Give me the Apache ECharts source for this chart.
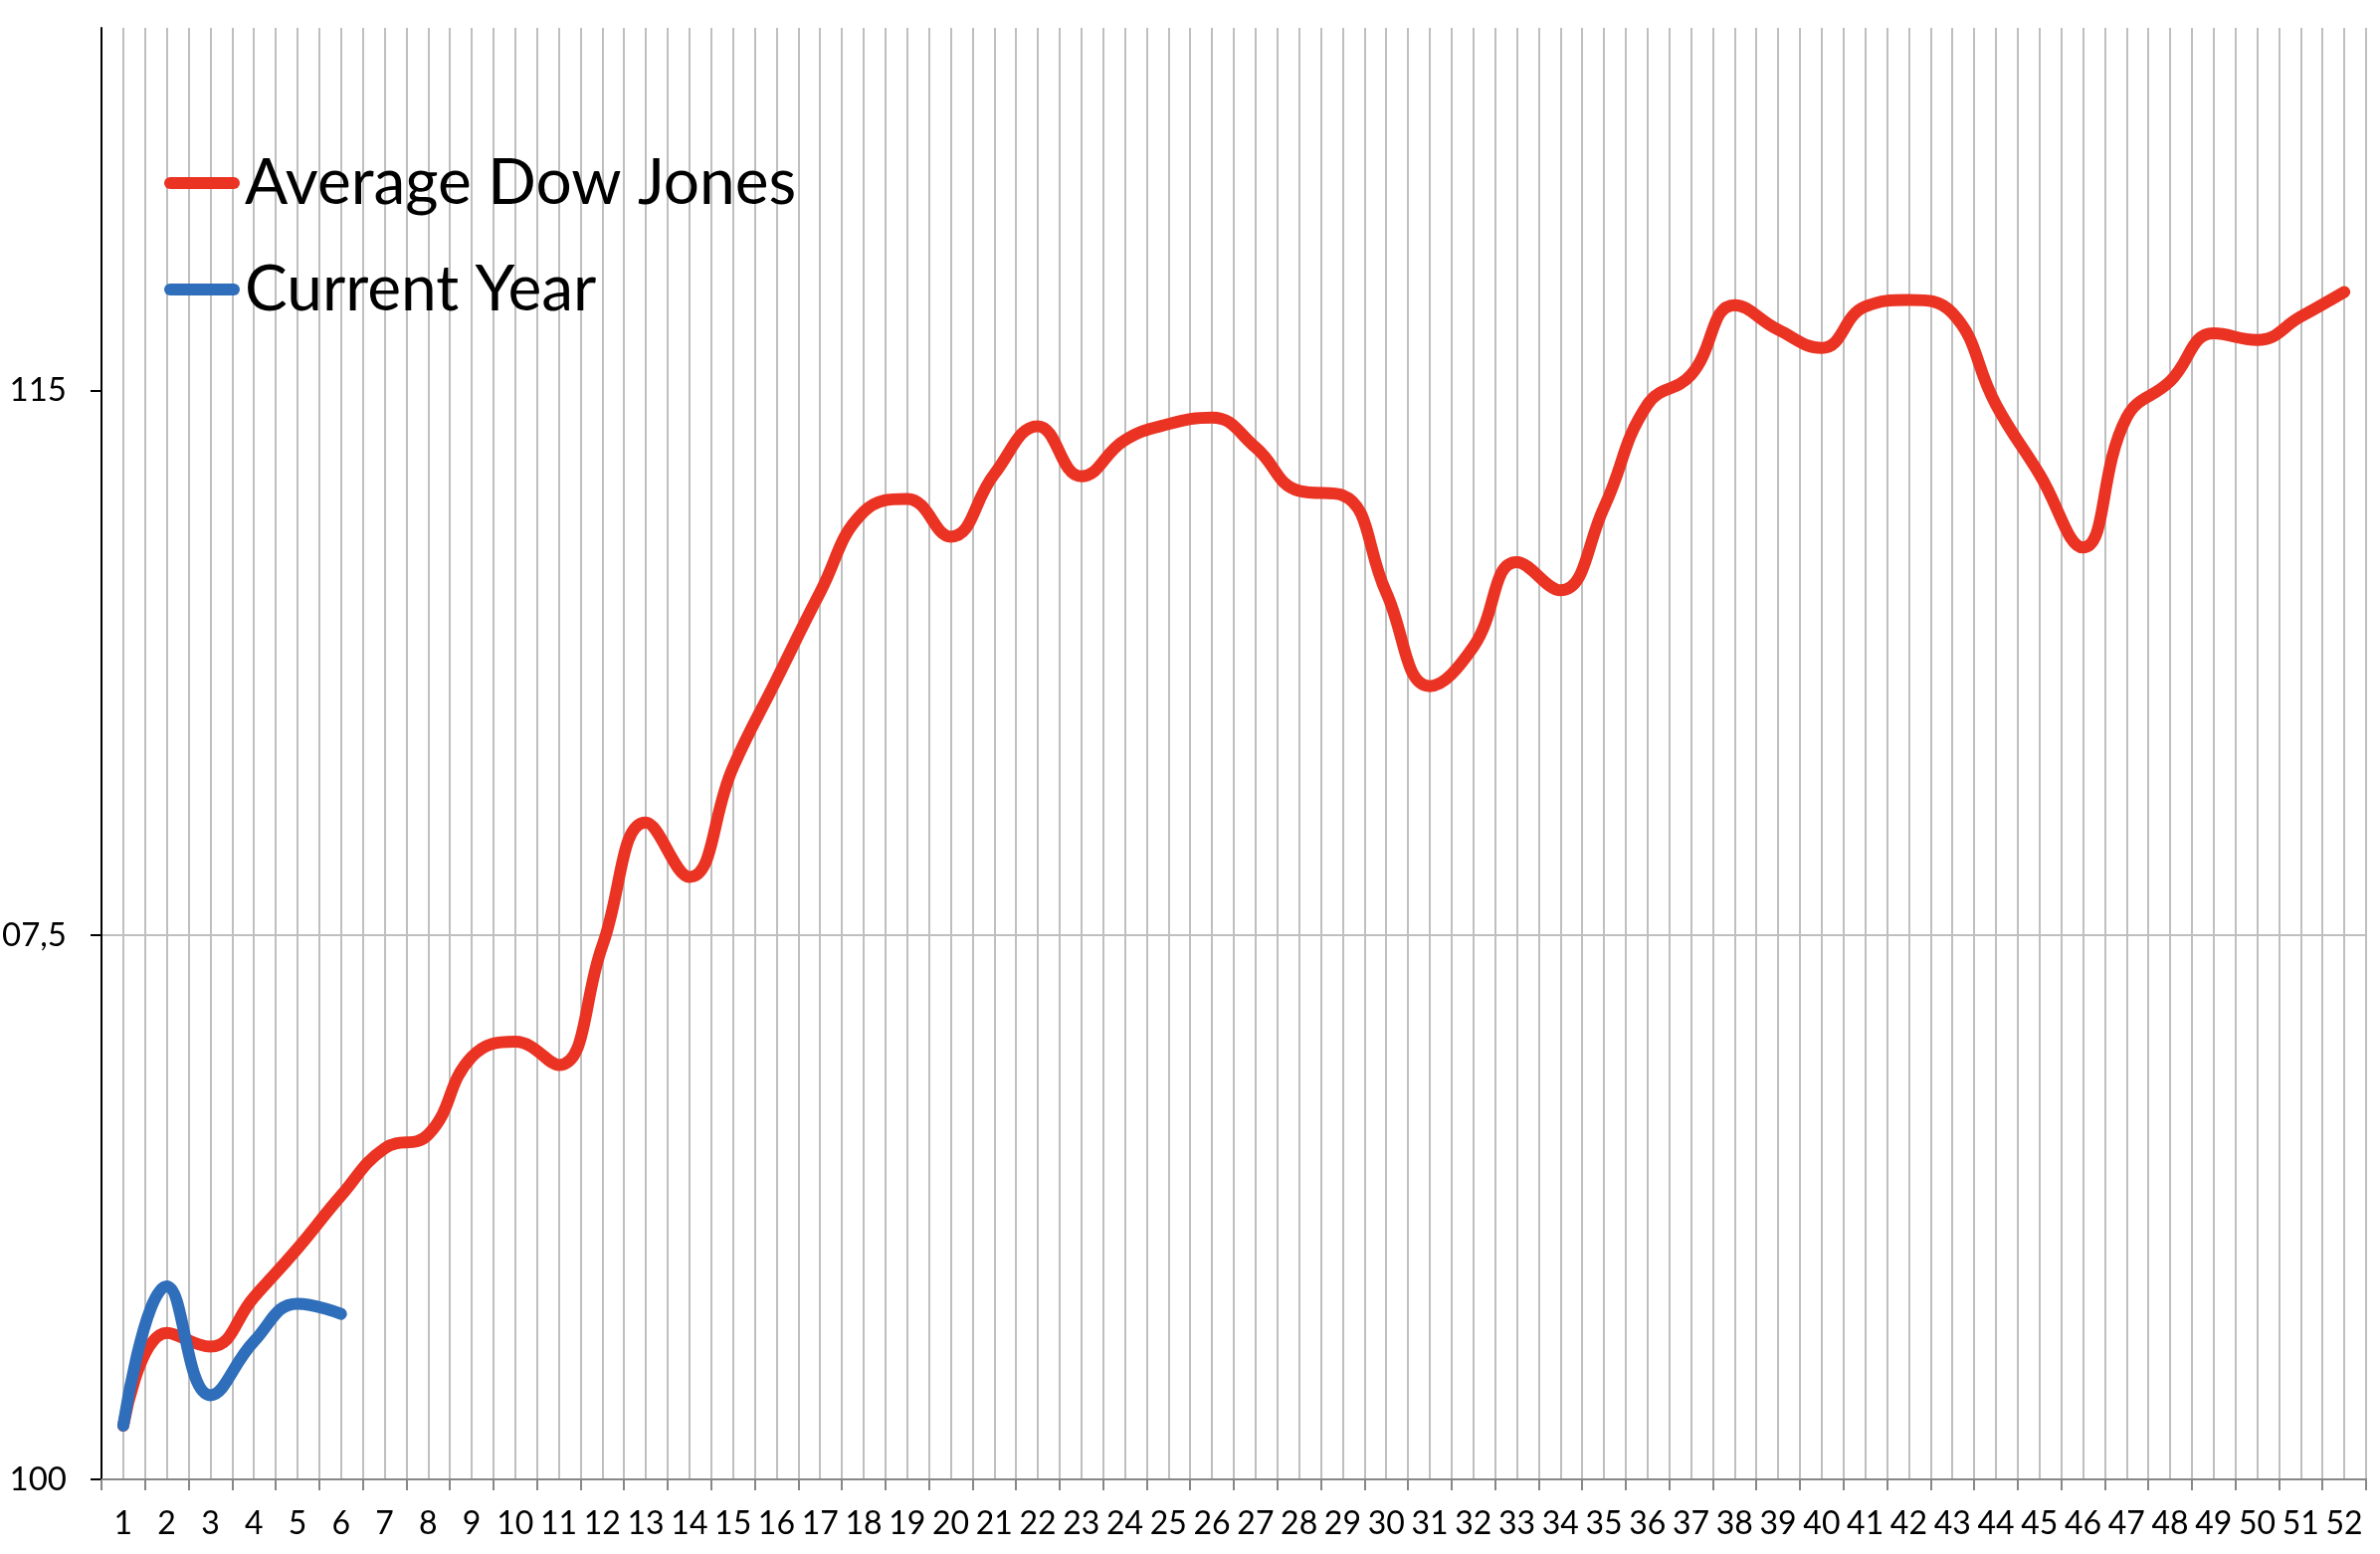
<!DOCTYPE html>
<html>
<head>
<meta charset="utf-8">
<script src="https://cdn.jsdelivr.net/npm/echarts@6/dist/echarts.min.js"></script>
<style>
html,body{margin:0;padding:0;background:#fff;}
#chart{width:2392px;height:1562px;}
</style>
</head>
<body>
<div id="chart"></div>
<script>
const weeks = ['1','2','3','4','5','6','7','8','9','10','11','12','13','14','15','16','17','18','19','20','21','22','23','24','25','26','27','28','29','30','31','32','33','34','35','36','37','38','39','40','41','42','43','44','45','46','47','48','49','50','51','52'];
const averageDowJones = [100.74,102.02,101.83,102.51,103.18,103.91,104.56,104.75,105.82,106.03,
  105.71,107.35,109.05,108.30,109.81,111.02,112.22,113.33,113.51,112.99,
  113.85,114.51,113.82,114.32,114.54,114.63,114.22,113.62,113.56,112.22,
  110.93,111.47,112.64,112.25,113.39,114.81,115.22,116.18,115.84,115.59,
  116.16,116.25,116.07,114.81,113.85,112.84,114.63,115.13,115.79,115.70,
  116.02,116.36];
const currentYear = [100.74,102.66,101.16,101.90,102.42,102.28];
const yTicks = [100, 107.5, 115];
const seriesNames = ['Average Dow Jones', 'Current Year'];

const FONT = 'Lato';
const chart = echarts.init(document.getElementById('chart'));
chart.setOption({
  backgroundColor: '#ffffff',
  animation: false,
  textStyle: { fontFamily: FONT },
  grid: { left: 102, right: 14, top: 28, bottom: 75, containLabel: false, outerBoundsMode: 'none' },
  legend: {
    orient: 'vertical',
    left: 160,
    top: 144,
    itemWidth: 76,
    itemHeight: 12,
    itemGap: 37,
    icon: 'path://M6,0H70A6,6,0,0,1,70,12H6A6,6,0,0,1,6,0Z',
    itemStyle: { borderWidth: 0 },
    textStyle: { fontFamily: FONT, fontSize: 64, lineHeight: 70, color: '#000' },
    data: seriesNames
  },
  xAxis: [
    {
      type: 'category',
      data: weeks,
      boundaryGap: true,
      position: 'bottom',
      axisLine: { show: true, lineStyle: { color: '#878787', width: 2 } },
      axisTick: { show: true, length: 11, lineStyle: { color: '#878787', width: 2 } },
      axisLabel: { fontFamily: FONT, fontSize: 32, color: '#000', margin: 29, interval: 0 },
      splitLine: { show: false }
    },
    {
      type: 'value',
      min: 0, max: 104, interval: 1,
      position: 'top',
      axisLine: { show: false },
      axisTick: { show: false },
      axisLabel: { show: false },
      splitLine: { show: true, showMinLine: false, lineStyle: { color: '#BFBFBF', width: 2 } }
    }
  ],
  yAxis: {
    type: 'value',
    min: 100, max: 120, interval: 7.5,
    axisLine: { show: true, lineStyle: { color: '#000', width: 2 } },
    axisTick: { show: true, length: 11, customValues: yTicks, lineStyle: { color: '#000', width: 2 } },
    axisLabel: {
      customValues: yTicks,
      fontFamily: FONT, fontSize: 33, color: '#000', margin: 35,
      formatter: v => String(v).replace('.', ',')
    },
    splitLine: { show: true, showMinLine: false, showMaxLine: false, lineStyle: { color: '#BFBFBF', width: 2 } }
  },
  series: [
    {
      name: seriesNames[0], type: 'line', data: averageDowJones,
      xAxisIndex: 0, smooth: 0.45, showSymbol: false, symbol: 'none',
      color: '#EA3323',
      lineStyle: { color: '#EA3323', width: 12, cap: 'round', join: 'round' }
    },
    {
      name: seriesNames[1], type: 'line', data: currentYear,
      xAxisIndex: 0, smooth: 0.45, showSymbol: false, symbol: 'none',
      color: '#2F6EBA',
      lineStyle: { color: '#2F6EBA', width: 12, cap: 'round', join: 'round' }
    }
  ]
});
</script>
</body>
</html>
